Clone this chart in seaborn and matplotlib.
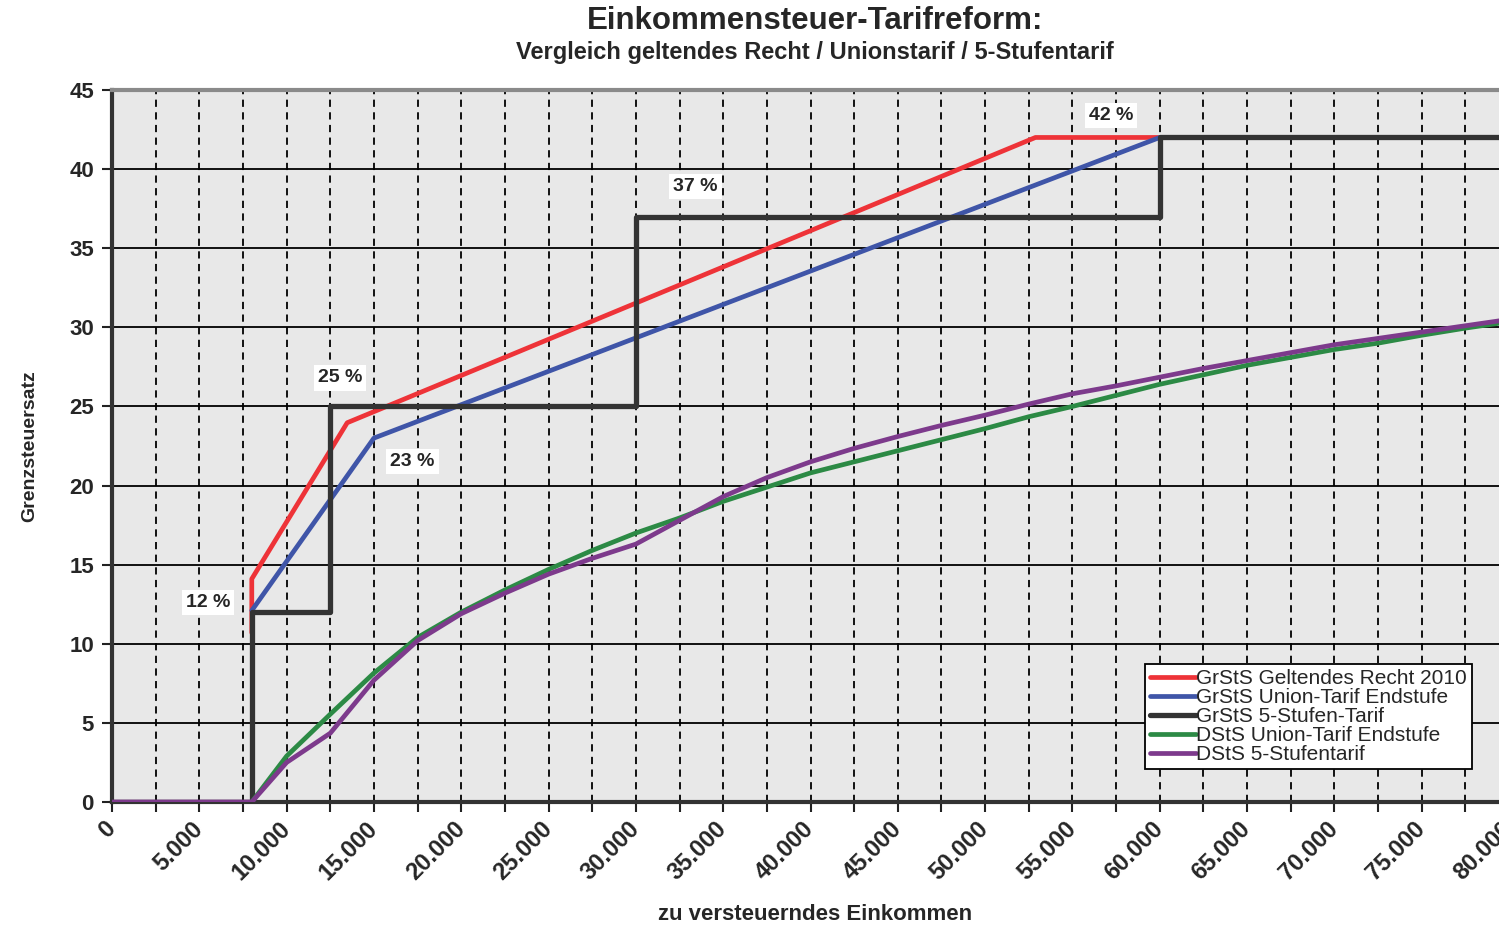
import matplotlib
matplotlib.use("Agg")
import matplotlib.pyplot as plt
import matplotlib.ticker as mticker
import pandas as pd
import seaborn as sns

sns.set_theme(style="white")
plt.rcParams["font.family"] = ["Liberation Sans", "DejaVu Sans"]

# --- data (income in EUR, rates in %) ---
red_x = [8004, 8004, 13469, 52882, 60000]
red_y = [10.7, 14.1, 23.97, 42.0, 42.0]

blue_x = [8004, 15000, 60000]
blue_y = [12.1, 23.0, 42.0]

black_x = [0, 8004, 8004, 12500, 12500, 30000, 30000, 60000, 60000, 80000]
black_y = [0, 0, 12, 12, 25, 25, 37, 37, 42, 42]

green_x = [8004, 10000, 12500, 15000, 17500, 20000, 22500, 25000, 27500, 30000,
           32500, 35000, 37500, 40000, 42500, 45000, 47500, 50000, 52500, 55000,
           57500, 60000, 62500, 65000, 67500, 70000, 72500, 75000, 77500, 80000]
green_y = [0, 2.9, 5.55, 8.15, 10.4, 12.0, 13.4, 14.7, 15.9, 17.0,
           17.95, 19.0, 19.9, 20.8, 21.5, 22.2, 22.9, 23.6, 24.35, 25.0,
           25.7, 26.4, 27.0, 27.6, 28.1, 28.6, 29.0, 29.5, 29.95, 30.35]

purple_x = [0, 8004, 10000, 12500, 15000, 17500, 20000, 22500, 25000, 27500,
            30000, 32500, 35000, 37500, 40000, 42500, 45000, 47500, 50000, 52500,
            55000, 57500, 60000, 62500, 65000, 67500, 70000, 72500, 75000, 77500, 80000]
purple_y = [0, 0, 2.5, 4.35, 7.7, 10.2, 11.9, 13.2, 14.4, 15.4,
            16.3, 17.8, 19.3, 20.5, 21.5, 22.35, 23.1, 23.8, 24.45, 25.15,
            25.8, 26.3, 26.85, 27.4, 27.9, 28.4, 28.9, 29.3, 29.7, 30.1, 30.5]

labels = ["GrStS Geltendes Recht 2010", "GrStS Union-Tarif Endstufe",
          "GrStS 5-Stufen-Tarif", "DStS Union-Tarif Endstufe", "DStS 5-Stufentarif"]
colors = ["#ee3338", "#3f55a8", "#333333", "#2c8a45", "#7d3a8c"]

step_labels = ["12 %", "25 %", "23 %", "37 %", "42 %"]
step_lx = [5500, 13050, 17200, 33400, 57200]
step_ly = [12.6, 26.8, 21.5, 38.9, 43.4]

series = {
    labels[0]: (red_x, red_y),
    labels[1]: (blue_x, blue_y),
    labels[2]: (black_x, black_y),
    labels[3]: (green_x, green_y),
    labels[4]: (purple_x, purple_y),
}

W, H = 1499, 927
fig = plt.figure(figsize=(W / 100, H / 100), dpi=100)
ax = fig.add_axes([112 / W, 125 / H, (1509 - 112) / W, 712 / H])
ax.set_facecolor("#e8e8e8")

# draw order: black step first, then the others on top
draw_order = [2, 0, 1, 3, 4]
widths = {0: 3.4, 1: 3.4, 2: 3.8, 3: 3.4, 4: 3.4}
for i in draw_order:
    lab = labels[i]
    xs, ys = series[lab]
    df = pd.DataFrame({"x": xs, "y": ys})
    sns.lineplot(data=df, x="x", y="y", ax=ax, estimator=None, sort=False,
                 color=colors[i], linewidth=widths[i], label=lab, zorder=3 + i)

ax.set_xlim(0, 80000)
ax.set_ylim(0, 45)

ax.xaxis.set_major_locator(mticker.MultipleLocator(5000))
ax.xaxis.set_minor_locator(mticker.MultipleLocator(2500))
ax.yaxis.set_major_locator(mticker.MultipleLocator(5))
ax.xaxis.set_major_formatter(mticker.FuncFormatter(lambda v, p: f"{int(v):,}".replace(",", ".")))

ax.grid(which="both", axis="x", color="black", linestyle=(0, (4, 3)), linewidth=1.3, zorder=1)
ax.grid(which="major", axis="y", color="black", linestyle="-", linewidth=1.3, zorder=1)
ax.set_axisbelow(True)

ax.tick_params(axis="x", which="both", direction="out", length=7, width=1.5,
               color="#222222", bottom=True, labelsize=17, pad=10)
ax.tick_params(axis="y", direction="out", length=7, width=1.5, color="#222222",
               left=True, labelsize=16, pad=6)
for t in ax.get_xticklabels():
    t.set_rotation(45)
    t.set_ha("right")
    t.set_va("center")
    t.set_rotation_mode("anchor")
    t.set_fontweight("bold")
for t in ax.get_yticklabels():
    t.set_fontweight("bold")

for side in ["left", "bottom"]:
    ax.spines[side].set_color("#333333")
    ax.spines[side].set_linewidth(3)
ax.spines["top"].set_color("#8a8a8a")
ax.spines["top"].set_linewidth(3)
ax.spines["right"].set_visible(False)

ax.set_xlabel("")
ax.set_ylabel("Grenzsteuersatz", fontsize=14, fontweight="bold", labelpad=22)
fig.text(815 / W, 1 - 915 / H, "zu versteuerndes Einkommen", ha="center", va="center",
         fontsize=16, fontweight="bold")

for txt, lx, ly in zip(step_labels, step_lx, step_ly):
    ax.text(lx, ly, txt, ha="center", va="center", fontsize=14, fontweight="bold",
            zorder=10, bbox=dict(facecolor="white", edgecolor="none", pad=3))

h, l = ax.get_legend_handles_labels()
lookup = dict(zip(l, h))
leg = ax.legend([lookup[k] for k in labels], labels, loc="upper right",
                bbox_to_anchor=(0.9735, 0.194), fontsize=15, frameon=True,
                fancybox=False, framealpha=1, edgecolor="black",
                handlelength=2.2, handletextpad=0.0, labelspacing=0.0,
                borderpad=0.25, borderaxespad=0)
leg.get_frame().set_linewidth(1.3)
leg.set_zorder(20)

fig.text(815 / W, 1 - 21 / H, "Einkommensteuer-Tarifreform:", ha="center", va="center",
         fontsize=22.5, fontweight="bold")
fig.text(815 / W, 1 - 53 / H, "Vergleich geltendes Recht / Unionstarif / 5-Stufentarif",
         ha="center", va="center", fontsize=17, fontweight="bold")

fig.savefig("out.png", dpi=100)
